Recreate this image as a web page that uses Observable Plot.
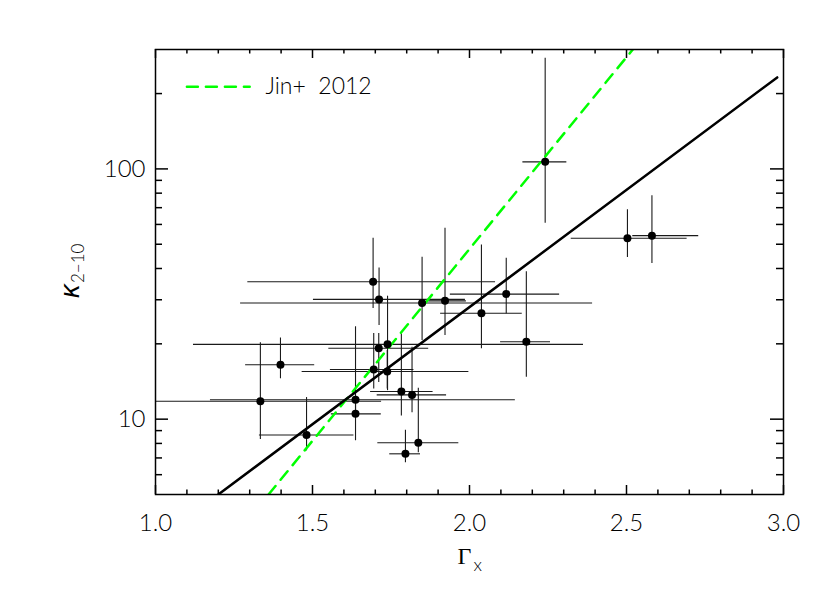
<!DOCTYPE html>
<html><head><meta charset="utf-8">
<script src="https://cdn.jsdelivr.net/npm/d3@7"></script>
<script src="https://cdn.jsdelivr.net/npm/@observablehq/plot@0.6"></script>
<style>body{margin:0;background:#fff} svg{display:block}</style>
</head><body><div id="chart"></div>
<script>
// ---- data ----
const gamma    = [1.693,1.712,1.849,1.922,2.117,2.038,2.181,1.739,1.711,1.695,1.738,1.637,1.637,1.334,1.481,1.398,1.783,1.817,1.837,1.796,2.503,2.581,2.241];
const gammaLo  = [1.294,1.503,1.271,1.870,1.939,1.908,2.099,1.121,1.552,1.557,1.467,1.175,1.560,0.950,1.331,1.287,1.685,1.706,1.708,1.746,2.324,2.520,2.170];
const gammaHi  = [2.083,1.987,2.392,1.990,2.287,2.168,2.258,2.363,1.870,1.823,1.998,2.146,1.719,1.720,1.632,1.507,1.884,1.927,1.966,1.844,2.693,2.730,2.310];
const kappa    = [35.4,30.1,29.1,29.7,31.6,26.5,20.4,19.9,19.2,15.8,15.5,11.95,10.5,11.8,8.65,16.5,12.9,12.5,8.05,7.27,52.8,54.1,106.7];
const kappaLo  = [27.7,23.7,20.6,21.6,26.4,19.1,14.7,13.0,14.0,13.2,13.2,10.8,8.2,8.3,7.47,14.5,10.3,10.6,7.35,6.7,44.3,41.9,60.7];
const kappaHi  = [52.8,40.2,44.4,57.9,44.0,49.6,38.8,31.0,22.0,22.0,18.8,23.4,12.4,20.2,12.2,21.1,21.9,19.4,13.3,9.04,68.6,78.2,276.7];

const fitX = [1.20, 2.98];     // solid black fit
const fitY = [5.0, 232];
const jinX = [1.36, 2.52];     // Jin+ 2012 relation
const jinY = [5.0, 300];

const legendLabel = "Jin+\u00a0 2012";
const legendX = [1.10, 1.30];
const legendY = 213;
const legendTextX = 1.35;

const xMajor = [1.0, 1.5, 2.0, 2.5, 3.0];
const xMinor = [1.1, 1.2, 1.3, 1.4, 1.6, 1.7, 1.8, 1.9, 2.1, 2.2, 2.3, 2.4, 2.6, 2.7, 2.8, 2.9];
const yMajor = [10, 100];
const yMinor = [6, 7, 8, 9, 20, 30, 40, 50, 60, 70, 80, 90, 200];

// ---- layout ----
const W = 830, H = 593, mL = 155, mR = 47, mT = 49, mB = 99;
const innerW = W - mL - mR, innerH = H - mT - mB;
const idx = d3.range(gamma.length);
const pts = (xs, ys) => xs.map((x, i) => ({x, y: ys[i]}));
const sans = "Lato, 'Liberation Sans', sans-serif";

const chart = Plot.plot({
  width: W, height: H,
  marginLeft: mL, marginRight: mR, marginTop: mT, marginBottom: mB,
  style: {fontFamily: sans, background: "#fff", color: "black"},
  x: {domain: [1, 3]},
  y: {type: "log", domain: [5, 300]},
  marks: [
    // error bars
    Plot.ruleY(idx, {y: i => kappa[i], x1: i => gammaLo[i], x2: i => gammaHi[i], stroke: "#1a1a1a", strokeWidth: 1.1, clip: true}),
    Plot.ruleX(idx, {x: i => gamma[i], y1: i => kappaLo[i], y2: i => kappaHi[i], stroke: "#1a1a1a", strokeWidth: 1.1, clip: true}),
    // relations
    Plot.line(pts(jinX, jinY), {x: "x", y: "y", stroke: "#00ff00", strokeWidth: 2.5, strokeDasharray: "11,8", clip: true}),
    Plot.line(pts(fitX, fitY), {x: "x", y: "y", stroke: "black", strokeWidth: 2.5, clip: true}),
    // points
    Plot.dot(idx, {x: i => gamma[i], y: i => kappa[i], r: 4, fill: "black", stroke: "none"}),
    // legend
    Plot.line(pts(legendX, [legendY, legendY]), {x: "x", y: "y", stroke: "#00ff00", strokeWidth: 2.5, strokeDasharray: "11,8"}),
    Plot.text([legendLabel], {x: legendTextX, y: legendY, text: d => d, textAnchor: "start", lineAnchor: "middle", fontSize: 23, fontWeight: 300, fill: "black"}),
    // frame + inward ticks on all sides
    Plot.frame({stroke: "black", strokeWidth: 1.5}),
    Plot.tickX(xMajor, {x: d => d, insetTop: innerH - 9, stroke: "black", strokeWidth: 1.5}),
    Plot.tickX(xMinor, {x: d => d, insetTop: innerH - 4.5, stroke: "black", strokeWidth: 1.5}),
    Plot.tickX(xMajor, {x: d => d, insetBottom: innerH - 9, stroke: "black", strokeWidth: 1.5}),
    Plot.tickX(xMinor, {x: d => d, insetBottom: innerH - 4.5, stroke: "black", strokeWidth: 1.5}),
    Plot.tickY(yMajor, {y: d => d, insetRight: innerW - 13, stroke: "black", strokeWidth: 1.5}),
    Plot.tickY(yMinor, {y: d => d, insetRight: innerW - 7, stroke: "black", strokeWidth: 1.5}),
    Plot.tickY(yMajor, {y: d => d, insetLeft: innerW - 13, stroke: "black", strokeWidth: 1.5}),
    Plot.tickY(yMinor, {y: d => d, insetLeft: innerW - 7, stroke: "black", strokeWidth: 1.5}),
    // tick labels
    Plot.axisX(xMajor, {anchor: "bottom", tickSize: 0, tickPadding: 19, tickFormat: d3.format(".1f"), fontSize: 24, fontWeight: 300, label: null}),
    Plot.axisY(yMajor, {anchor: "left", tickSize: 0, tickPadding: 10, tickFormat: d3.format("d"), fontSize: 24, fontWeight: 300, label: null}),
    // axis titles
    Plot.text(["Γ"], {frameAnchor: "bottom", text: d => d, dx: -5, dy: 69, lineAnchor: "bottom", fontSize: 24, fontFamily: "'Liberation Serif', serif"}),
    Plot.text(["x"], {frameAnchor: "bottom", text: d => d, dx: 4, dy: 76, textAnchor: "start", lineAnchor: "bottom", fontSize: 18, fontWeight: 300}),
    Plot.text(["κ"], {frameAnchor: "left", text: d => d, dx: -77, dy: 26, rotate: -90, textAnchor: "start", lineAnchor: "bottom", fontSize: 27, fontStyle: "italic", fontFamily: "'Liberation Sans', sans-serif"}),
    Plot.text(["2−10"], {frameAnchor: "left", text: d => d, dx: -72, dy: 11, rotate: -90, textAnchor: "start", lineAnchor: "bottom", fontSize: 17, fontWeight: 300})
  ]
});
document.getElementById("chart").append(chart);
</script>
</body></html>
